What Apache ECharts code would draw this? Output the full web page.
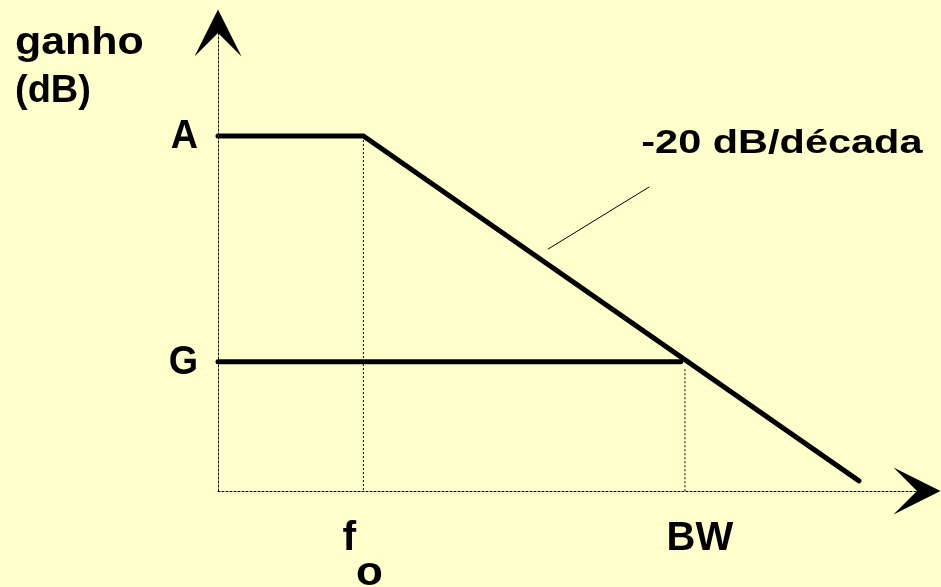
<!DOCTYPE html>
<html>
<head>
<meta charset="utf-8">
<script src="https://cdn.jsdelivr.net/npm/echarts@6/dist/echarts.min.js"></script>
<style>
  html, body { margin: 0; padding: 0; background: #FFFFCC; }
  #chart { width: 941px; height: 587px; }
</style>
</head>
<body>
<div id="chart"></div>
<script>
// Gain levels (dB, arbitrary units)
const levelNames = ['A', 'G'];
const levelValues = [7.75, 2.82];

// Frequency marks (log frequency, arbitrary units)
const freqNames = ['f', 'BW'];
const freqSubscripts = ['o', ''];
const freqValues = [2.08, 6.68];

// Open-loop gain: flat at A up to fo, then falling at -20 dB/decade
const openLoopX = [0, 2.08, 9.17];
const openLoopY = [7.75, 7.75, 0.22];

// Closed-loop gain: flat at G up to BW
const closedLoopX = [0, 6.62];
const closedLoopY = [2.82, 2.82];

// Leader line for the slope annotation
const leaderX = [4.72, 6.17];
const leaderY = [5.28, 6.64];

const slopeText = '-20 dB/década';
const yTitle = ['ganho', '(dB)'];

const FONT = '"Liberation Sans", Arial, Helvetica, sans-serif';
const ARROW = 'path://M0,0L10,20L0,10L-10,20Z';

const pairs = (xs, ys) => xs.map((x, i) => [x, ys[i]]);

const chart = echarts.init(document.getElementById('chart'), null, { renderer: 'canvas' });

const guideStyle = { color: '#000', width: 1, type: [2, 2] };

const series = [
  {
    name: 'open-loop',
    type: 'line',
    data: pairs(openLoopX, openLoopY),
    symbol: 'none',
    lineStyle: { color: '#000', width: 5, cap: 'round', join: 'miter' },
    z: 5
  },
  {
    name: 'closed-loop',
    type: 'line',
    data: pairs(closedLoopX, closedLoopY),
    symbol: 'none',
    lineStyle: { color: '#000', width: 5, cap: 'round' },
    z: 5
  },
  {
    name: 'leader',
    type: 'line',
    data: pairs(leaderX, leaderY),
    symbol: 'none',
    lineStyle: { color: '#000', width: 1 },
    z: 4
  },
  // dotted drop lines from the break points to the frequency axis
  {
    name: 'guide-fo',
    type: 'line',
    data: [[freqValues[0], levelValues[0]], [freqValues[0], 0]],
    symbol: 'none',
    lineStyle: guideStyle,
    z: 3
  },
  {
    name: 'guide-bw',
    type: 'line',
    data: [[freqValues[1], levelValues[1] - 0.16], [freqValues[1], 0]],
    symbol: 'none',
    lineStyle: guideStyle,
    z: 3
  }
];

const axisLineCommon = {
  show: true,
  lineStyle: { color: '#000', width: 1, type: [2, 2] },
  symbol: ['none', ARROW],
  symbolSize: [47, 47]
};

chart.setOption({
  backgroundColor: '#FFFFCC',
  animation: false,
  grid: { left: 218, right: 24, top: 33, bottom: 96, containLabel: false },
  xAxis: {
    type: 'value', min: 0, max: 10,
    axisLine: axisLineCommon,
    axisTick: { show: false }, axisLabel: { show: false }, splitLine: { show: false }
  },
  yAxis: {
    type: 'value', min: 0, max: 10,
    axisLine: axisLineCommon,
    axisTick: { show: false }, axisLabel: { show: false }, splitLine: { show: false }
  },
  series: series
});

// Text annotations placed from the data coordinates
const px = (x, y) => chart.convertToPixel({ gridIndex: 0 }, [x, y]);
const graphics = [];

const boldText = (text, x, y, size, align, vAlign, scaleX) => ({
  type: 'text', x: x, y: y, scaleX: scaleX || 1, z: 10,
  style: {
    text: text, fill: '#000',
    font: 'bold ' + size + 'px ' + FONT,
    align: align, verticalAlign: vAlign
  }
});

// axis title
graphics.push(boldText(yTitle[0], 15, 44, 38, 'left', 'middle', 1.13));
graphics.push(boldText(yTitle[1], 15, 92, 38, 'left', 'middle', 1.0));

// level labels
levelNames.forEach((name, i) => {
  const p = px(0, levelValues[i]);
  graphics.push(boldText(name, p[0] - 20, p[1] + 1, 41, 'right', 'middle', 0.92));
});

// frequency labels
freqNames.forEach((name, i) => {
  const p = px(freqValues[i], 0);
  if (freqSubscripts[i]) {
    graphics.push(boldText(name, p[0] - 14, p[1] + 48, 41, 'center', 'middle', 1));
    graphics.push(boldText(freqSubscripts[i], p[0] + 6, p[1] + 83, 40, 'center', 'middle', 1.1));
  } else {
    graphics.push(boldText(name, p[0] + 15, p[1] + 48, 40, 'center', 'middle', 1));
  }
});

// slope annotation above the leader line
const lp = px(leaderX[1], leaderY[1]);
graphics.push(boldText(slopeText, lp[0] - 8, lp[1] - 43, 34, 'left', 'middle', 1.22));

chart.setOption({ graphic: graphics });
</script>
</body>
</html>
